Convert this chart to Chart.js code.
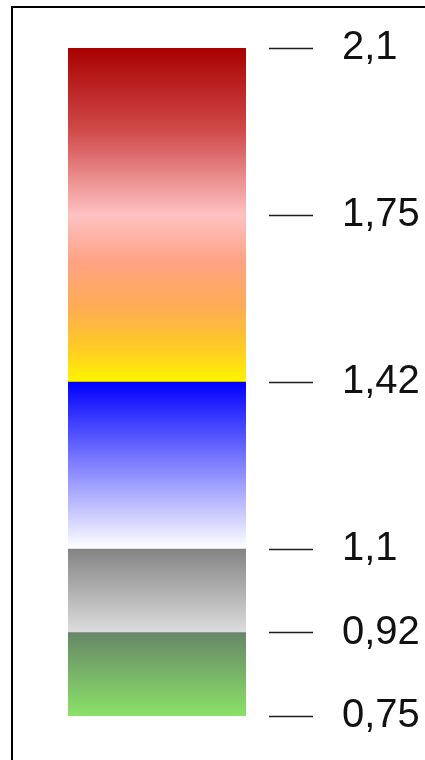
<!DOCTYPE html>
<html>
<head>
<meta charset="utf-8">
<title>Colour scale</title>
<script src="https://cdn.jsdelivr.net/npm/chart.js@4/dist/chart.umd.min.js"></script>
<style>
  html, body { margin: 0; padding: 0; background: #ffffff; overflow: hidden; }
  #frame {
    position: absolute; left: 11px; top: 6px; width: 520px; height: 820px;
    border-left: 2px solid #000; border-top: 2px solid #000;
  }
  #chart { position: absolute; left: 0; top: 0; }
</style>
</head>
<body>
<div id="frame"></div>
<canvas id="chart" width="425" height="760"></canvas>
<script>
// Class limits shown on the scale (ascending) and their printed labels
const thresholds = [0.75, 0.92, 1.1, 1.42, 1.75, 2.1];
const tickLabels = ['0,75', '0,92', '1,1', '1,42', '1,75', '2,1'];

// Colour bands: each one spans [bandLow, bandHigh]
const bandNames = ['green', 'grey', 'blue', 'warm', 'red'];
const bandLow  = [0.75, 0.92, 1.1, 1.42, 1.75];
const bandHigh = [0.92, 1.1, 1.42, 1.75, 2.1];

// Gradient stops per band, from the bottom (0) to the top (1)
const bandStops = [
  [[0, '#8ae268'], [1, '#678767']],
  [[0, '#dddddd'], [1, '#848484']],
  [[0, '#ffffff'], [0.5, '#8282ff'], [1, '#0000ff']],
  [[0, '#fff500'], [0.2, '#ffcc22'], [0.45, '#ffac55'], [0.72, '#ffa283'], [1, '#ffc2c2']],
  [[0, '#ffc2c2'], [0.5, '#d04b4b'], [1, '#a90000']]
];

// Relative height of each interval between consecutive thresholds
const intervalSpan = [1, 1, 2, 2, 2];

// Piecewise-linear value axis: every interval gets its own share of the height
class BandScale extends Chart.LinearScale {
  static id = 'band';
  static defaults = Chart.LinearScale.defaults;

  buildTicks() {
    return thresholds.map(v => ({ value: v }));
  }
  _decimalFor(value) {
    const total = intervalSpan.reduce((a, b) => a + b, 0);
    let acc = 0;
    for (let i = 0; i < intervalSpan.length; i++) {
      const lo = thresholds[i], hi = thresholds[i + 1];
      if (value <= hi || i === intervalSpan.length - 1) {
        const f = (value - lo) / (hi - lo);
        return (acc + f * intervalSpan[i]) / total;
      }
      acc += intervalSpan[i];
    }
    return 1;
  }
  getPixelForValue(value) {
    if (value === null || isNaN(value)) return NaN;
    return this.getPixelForDecimal(this._decimalFor(value));
  }
  getValueForPixel(pixel) {
    const total = intervalSpan.reduce((a, b) => a + b, 0);
    const d = this.getDecimalForPixel(pixel) * total;
    let acc = 0;
    for (let i = 0; i < intervalSpan.length; i++) {
      if (d <= acc + intervalSpan[i] || i === intervalSpan.length - 1) {
        const f = (d - acc) / intervalSpan[i];
        return thresholds[i] + f * (thresholds[i + 1] - thresholds[i]);
      }
      acc += intervalSpan[i];
    }
    return thresholds[thresholds.length - 1];
  }
}
Chart.register(BandScale);

function bandFill(index) {
  return (ctx) => {
    const chart = ctx.chart;
    const y = chart.scales.y;
    if (!chart.chartArea || !y) return bandStops[index][0][1];
    const yBottom = y.getPixelForValue(bandLow[index]);
    const yTop = y.getPixelForValue(bandHigh[index]);
    const g = chart.ctx.createLinearGradient(0, yBottom, 0, yTop);
    bandStops[index].forEach(([p, c]) => g.addColorStop(p, c));
    return g;
  };
}

const datasets = bandNames.map((name, i) => ({
  label: name,
  data: [[bandLow[i], bandHigh[i]]],
  xAxisID: 'x',
  yAxisID: 'y',
  backgroundColor: bandFill(i),
  borderWidth: 0,
  barPercentage: 1,
  categoryPercentage: 1,
  grouped: false
}));

new Chart(document.getElementById('chart'), {
  type: 'bar',
  data: { labels: [''], datasets },
  options: {
    responsive: false,
    devicePixelRatio: 1,
    animation: false,
    events: [],
    layout: { padding: { left: 68, top: 48, bottom: 44, right: 0 } },
    plugins: { legend: { display: false }, tooltip: { enabled: false } },
    scales: {
      x: { display: false },
      y: {
        type: 'band',
        position: 'right',
        weight: 1,
        min: 0.75,
        max: 2.1,
        border: { display: false },
        grid: {
          drawOnChartArea: false,
          drawTicks: true,
          tickLength: 44,
          tickColor: '#1e1e1e',
          tickWidth: 1.5
        },
        ticks: {
          padding: 29,
          color: '#111111',
          font: { family: '"Liberation Sans", Arial, sans-serif', size: 40 },
          callback: (value, index) => tickLabels[index]
        },
        afterFit: (s) => { s.width = 156; s.paddingTop = 0; s.paddingBottom = 0; }
      },
      // empty strip between the bar and the tick marks
      gap: {
        type: 'linear',
        position: 'right',
        weight: 0,
        display: true,
        grid: { display: false },
        border: { display: false },
        ticks: { display: false },
        afterFit: (s) => { s.width = 23; s.paddingTop = 0; s.paddingBottom = 0; }
      }
    }
  }
});
</script>
</body>
</html>
